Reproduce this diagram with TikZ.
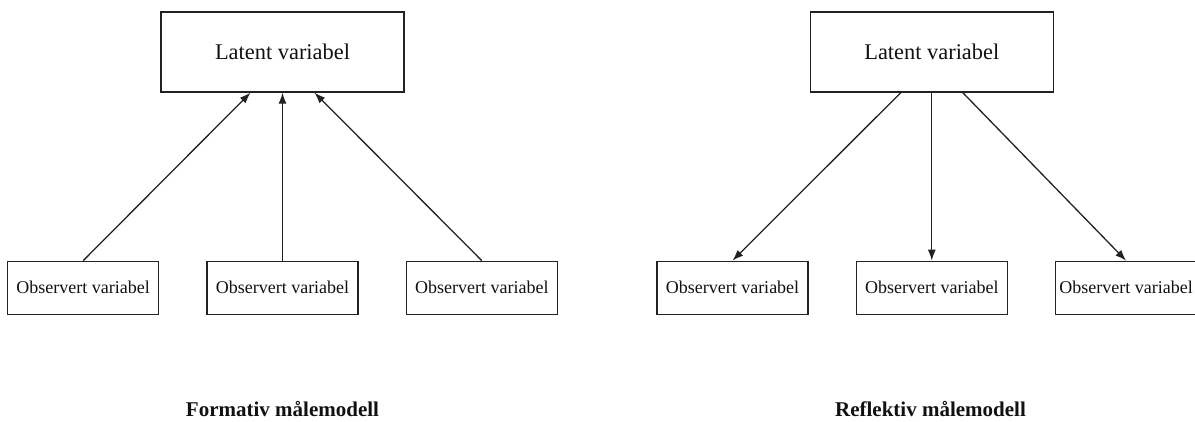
\documentclass[tikz,border=0pt]{standalone}
\usepackage{fontspec}
\setmainfont{Liberation Serif}
\usepackage{tikz}
\usetikzlibrary{arrows.meta,positioning}
\definecolor{mmink}{HTML}{111111}
\definecolor{mmline}{HTML}{222222}
\tikzset{
  latent/.style   = {rectangle, draw=mmline, line width=1.3pt, text=mmink,
                     minimum width=243pt, minimum height=80pt, inner sep=0pt,
                     font=\fontsize{22.4}{26}\selectfont},
  observed/.style = {rectangle, draw=mmline, line width=1.3pt, text=mmink,
                     minimum width=151pt, minimum height=53pt, inner sep=0pt,
                     font=\fontsize{18}{21}\selectfont},
  flow/.style     = {-{Latex[length=11pt,width=8pt]}, line width=1.3pt, draw=mmline},
  caption/.style  = {text=mmink, anchor=base, inner sep=0pt,
                     font=\fontsize{21}{24}\selectfont\bfseries},
}
\begin{document}
\begin{tikzpicture}[x=1pt, y=-1pt]
\useasboundingbox (0,0) rectangle (1195,421);

% --- formativ
\node[latent] (flat) at (282.5,52) {Latent variabel};
\node[observed, below=168pt of flat] (fobs2) {Observert variabel};
\node[observed, left=47pt of fobs2] (fobs1) {Observert variabel};
\node[observed, right=47pt of fobs2] (fobs3) {Observert variabel};

% --- reflektiv
\node[latent, right=405pt of flat] (rlat) {Latent variabel};
\node[observed, below=168pt of rlat] (robs2) {Observert variabel};
\node[observed, left=47pt of robs2] (robs1) {Observert variabel};
\node[observed, right=47pt of robs2, minimum width=141pt] (robs3) {Observert variabel};

% --- arrows
\draw[flow] (fobs1.north) -- ([xshift=-32pt]flat.south);
\draw[flow] (fobs2.north) -- (flat.south);
\draw[flow] (fobs3.north) -- ([xshift=32pt]flat.south);
\draw[flow] ([xshift=-31pt]rlat.south) -- (robs1.north);
\draw[flow] (rlat.south) -- (robs2.north);
\draw[flow] ([xshift=31pt]rlat.south) -- (robs3.north);

% --- captions
\node[caption] (fcap) at (282.5,416) {Formativ målemodell};
\node[caption] (rcap) at (930.5,416) {Reflektiv målemodell};

\end{tikzpicture}
\end{document}
